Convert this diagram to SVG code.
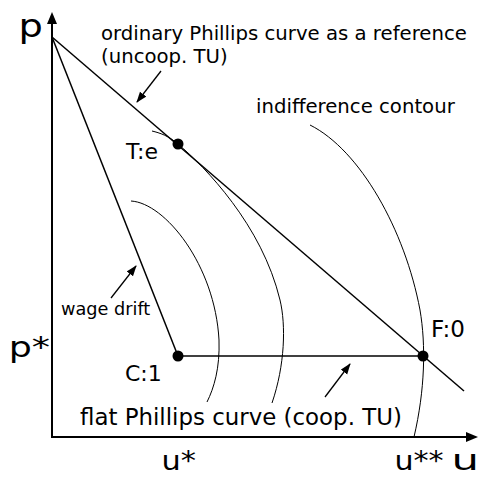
<svg xmlns="http://www.w3.org/2000/svg" width="480" height="477" viewBox="0 0 480 477">
<style>
text{font-family:"DejaVu Sans",Verdana,sans-serif;fill:#000}
.ax{stroke:#000;stroke-width:2;fill:none}
.ln{stroke:#000;stroke-width:1.5;fill:none}
.ic{stroke:#000;stroke-width:1;fill:none}
.pt{stroke:#000;stroke-width:1.3;fill:none;marker-end:url(#ah)}
.lab{font-size:19.7px}
</style>
<defs>
<marker id="ah" markerWidth="12" markerHeight="10" refX="10" refY="4" orient="auto" markerUnits="userSpaceOnUse">
<path d="M0,0 L11,4 L0,8 Z" fill="#000"/>
</marker>
</defs>
<g id="axes">
<line class="ax" x1="52" y1="437" x2="52" y2="22"/>
<path d="M52,12 L47,24 L57,24 Z" fill="#000"/>
<line class="ax" x1="51" y1="437" x2="468" y2="437"/>
<path d="M478,437 L466,432 L466,442 Z" fill="#000"/>
</g>
<g id="connectors">
<line class="ln" x1="52" y1="37" x2="464" y2="391"/>
<line class="ln" x1="52" y1="37" x2="178" y2="356"/>
<line class="ln" x1="178" y1="356" x2="423" y2="356"/>
<path class="ic" d="M131,201 C165,203 215,265 219,340 C220,368 214,388 207,402"/>
<path class="ic" d="M152,131 C160,133 168,135.5 178,144 C205,167 262,225 280,300 C286,325 285,365 272,403"/>
<path class="ic" d="M310,125 C360,150 405,230 420,310 C426,345 425,390 414,437"/>
<line class="pt" x1="161" y1="71" x2="137" y2="102"/>
<line class="pt" x1="111" y1="298" x2="136" y2="266"/>
<line class="pt" x1="325" y1="397" x2="350" y2="364"/>
</g>
<g id="node-T"><circle cx="178" cy="144" r="5.5"/><text x="126" y="159" font-size="22">T:e</text></g>
<g id="node-F"><circle cx="423" cy="356" r="5.5"/><text x="431" y="337" font-size="23">F:0</text></g>
<g id="node-C"><circle cx="178" cy="356" r="5.5"/><text x="125" y="381" font-size="22">C:1</text></g>
<g id="labels">
<text transform="translate(18.5,37) scale(1.2,1)" font-size="32">p</text>
<text transform="translate(8.7,357) scale(1.3,1)" font-size="28">p*</text>
<text transform="translate(161.4,470) scale(1.17,1)" font-size="26">u*</text>
<text transform="translate(394.4,470) scale(1.16,1)" font-size="26">u**</text>
<text transform="translate(451.5,470) scale(1.55,1)" font-size="28">u</text>
<text x="101" y="40" class="lab">ordinary Phillips curve as a reference</text>
<text x="101" y="63" class="lab">(uncoop. TU)</text>
<text x="256" y="113" class="lab">indifference contour</text>
<text x="61" y="315" font-size="17.7">wage drift</text>
<text x="80" y="425" font-size="22.9">flat Phillips curve (coop. TU)</text>
</g>
</svg>
